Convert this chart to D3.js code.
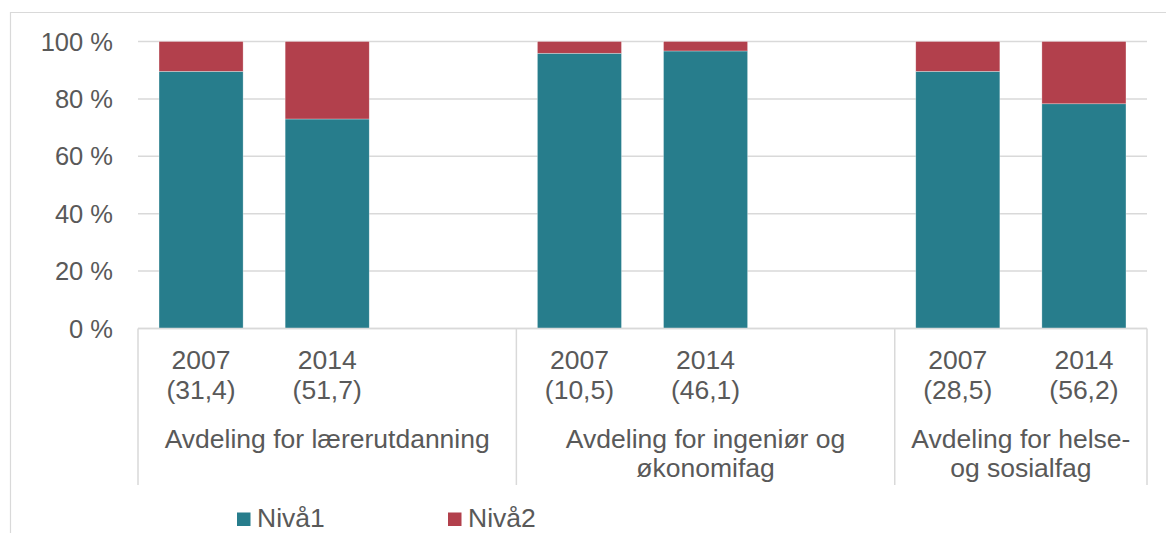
<!DOCTYPE html>
<html>
<head>
<meta charset="utf-8">
<script src="https://cdn.jsdelivr.net/npm/d3@7"></script>
<style>
  body { margin: 0; background: #fff; }
  svg { display: block; font-family: "Liberation Sans", Arial, sans-serif; }
  text { fill: #595959; }
</style>
</head>
<body>
<svg width="1166" height="533"></svg>
<script>
// data
let departments = [
    ["Avdeling for lærerutdanning"],
    ["Avdeling for ingeniør og", "økonomifag"],
    ["Avdeling for helse-", "og sosialfag"]
];
let years = ["2007", "2014"];
let counts = ["(31,4)", "(51,7)", "(10,5)", "(46,1)", "(28,5)", "(56,2)"];
let niva1 = [89.6, 73.0, 95.9, 96.7, 89.6, 78.3];
let niva2 = [10.4, 27.0, 4.1, 3.3, 10.4, 21.7];
let seriesNames = ["Nivå1", "Nivå2"];
let yTicks = [0, 20, 40, 60, 80, 100];

let colors = { "Nivå1": "#277d8c", "Nivå2": "#b2404c" };

let svg = d3.select("svg");
let plotLeft = 138, plotRight = 1147, plotTop = 41.5, plotBottom = 328.5;

// slots: two years per department, plus an empty spacer after the first two
let slots = [];
departments.forEach((d, gi) => {
    years.forEach(y => slots.push("g" + gi + "-" + y));
    if (gi < departments.length - 1) slots.push("g" + gi + "-gap");
});

let x = d3.scaleBand().domain(slots).range([plotLeft, plotRight])
    .paddingInner(1 / 3).paddingOuter(1 / 6);
let y = d3.scaleLinear().domain([0, 100]).range([plotBottom, plotTop]);

// outer chart border
svg.append("path")
    .attr("d", "M10.5,533V12.5H1166")
    .attr("fill", "none").attr("stroke", "#d9d9d9").attr("stroke-width", 1.2);

// gridlines + y labels
let grid = svg.append("g");
yTicks.forEach(t => {
    grid.append("line")
        .attr("x1", plotLeft).attr("x2", plotRight)
        .attr("y1", y(t)).attr("y2", y(t))
        .attr("stroke", "#d9d9d9").attr("stroke-width", 1.5);
    grid.append("text")
        .attr("x", 113).attr("y", y(t) + 9)
        .attr("text-anchor", "end")
        .style("font-size", "25.5px")
        .text(t + " %");
});

// bars
let rows = [];
departments.forEach((d, gi) => {
    years.forEach((yr, yi) => {
        let i = gi * 2 + yi;
        rows.push({ slot: "g" + gi + "-" + yr, "Nivå1": niva1[i], "Nivå2": niva2[i] });
    });
});
let stack = d3.stack().keys(seriesNames)(rows);

svg.append("g").selectAll("g")
    .data(stack)
  .enter().append("g")
    .attr("fill", d => colors[d.key])
  .selectAll("rect")
    .data(d => d)
  .enter().append("rect")
    .attr("x", d => x(d.data.slot))
    .attr("width", x.bandwidth())
    .attr("y", d => y(d[1]))
    .attr("height", d => y(d[0]) - y(d[1]))
    .attr("stroke", "#ffffff").attr("stroke-opacity", 0.5).attr("stroke-width", 0.6);

// category axis: baseline and group separators
let step = x.step();
let axis = svg.append("g").attr("stroke", "#d9d9d9").attr("stroke-width", 1.5);
axis.append("line").attr("x1", plotLeft).attr("x2", plotRight).attr("y1", plotBottom).attr("y2", plotBottom);
let bounds = [plotLeft];
departments.forEach((d, gi) => {
    let lastSlot = gi < departments.length - 1 ? "g" + gi + "-gap" : "g" + gi + "-" + years[years.length - 1];
    bounds.push(x(lastSlot) - step * x.paddingInner() / 2 + step);
});
bounds[bounds.length - 1] = plotRight;
bounds.forEach(b => {
    axis.append("line").attr("x1", b).attr("x2", b).attr("y1", plotBottom).attr("y2", 485);
});

// year labels
let labels = svg.append("g").style("font-size", "26.5px").attr("text-anchor", "middle");
departments.forEach((d, gi) => {
    years.forEach((yr, yi) => {
        let cx = x("g" + gi + "-" + yr) + x.bandwidth() / 2;
        labels.append("text").attr("x", cx).attr("y", 369).text(yr);
        labels.append("text").attr("x", cx).attr("y", 399).text(counts[gi * 2 + yi]);
    });
    let cx = (bounds[gi] + bounds[gi + 1]) / 2;
    d.forEach((line, li) => {
        labels.append("text").attr("x", cx).attr("y", 447.5 + li * 29.5).text(line);
    });
});

// legend
let legendX = [237, 448];
let legend = svg.append("g");
seriesNames.forEach((s, i) => {
    legend.append("rect")
        .attr("x", legendX[i]).attr("y", 512.5)
        .attr("width", 13.5).attr("height", 13.5)
        .attr("fill", colors[s]);
    legend.append("text")
        .attr("x", legendX[i] + 20).attr("y", 527)
        .style("font-size", "26.5px")
        .text(s);
});
</script>
</body>
</html>
